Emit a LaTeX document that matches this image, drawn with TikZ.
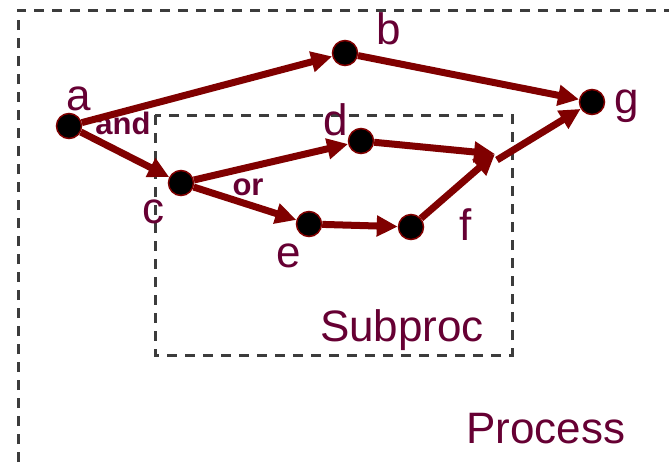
\documentclass[tikz,border=0pt]{standalone}
\usepackage{fontspec}
\setmainfont{Liberation Sans}
\usetikzlibrary{arrows.meta}
\definecolor{arr}{RGB}{128,0,0}
\definecolor{txt}{RGB}{102,0,51}
\definecolor{dsh}{RGB}{60,60,60}
\tikzset{
  dot/.style={circle,fill=black,draw=arr,line width=1.5pt,minimum size=25pt,inner sep=0pt},
  lbl/.style={text=txt,font=\fontsize{44}{50}\selectfont,inner sep=0pt,anchor=base},
  blbl/.style={text=txt,font=\fontsize{31}{36}\selectfont\bfseries,inner sep=0pt,anchor=base},
  flow/.style={draw=arr,line width=7pt,-{Triangle[length=21pt,width=20pt]}},
  box/.style={draw=dsh,line width=3pt,dash pattern=on 10pt off 8pt}
}
\begin{document}
\begin{tikzpicture}[x=1pt,y=-1pt]
\useasboundingbox (0,0) rectangle (669,467);
% outer process box
\draw[box] (18,480) -- (18,10) -- (690,10);
% inner subprocess box
\draw[box] (155,115) rectangle (512,355);
% nodes
\node[dot] (a) at (69,126) {};
\node[dot] (b) at (345,53) {};
\node[dot] (g) at (592,102) {};
\node[dot] (c) at (181,183) {};
\node[dot] (d) at (361,141) {};
\node[dot] (e) at (309,224) {};
\node[dot] (f) at (411,227) {};
\coordinate (J) at (495,154);
\coordinate (Js) at (497,160);
% labels
\node[lbl] (la) at (79,110) {a};
\node[lbl] (lb) at (389,44) {b};
\node[lbl] (lg) at (627,113) {g};
\node[lbl] (lc) at (153,223) {c};
\node[lbl] (ld) at (336,135) {d};
\node[lbl] (le) at (289,267) {e};
\node[lbl] (lf) at (466,240) {f};
\node[blbl] (land) at (123,134) {and};
\node[blbl] (lor) at (248,195) {or};
\node[lbl] (sub) at (402,341) {Subproc};
\node[lbl] (proc) at (546,443) {Process};
% connectors
\draw[flow] (a) -- (b);
\draw[flow] (b) -- (g);
\draw[flow] (a) -- (c);
\draw[flow] (c) -- (d);
\draw[flow] (c) -- (e);
\draw[flow] (e) -- (f);
\draw[flow] (d) -- (J);
\draw[flow] (f) -- (J);
\draw[flow] (Js) -- (g);
\end{tikzpicture}
\end{document}
